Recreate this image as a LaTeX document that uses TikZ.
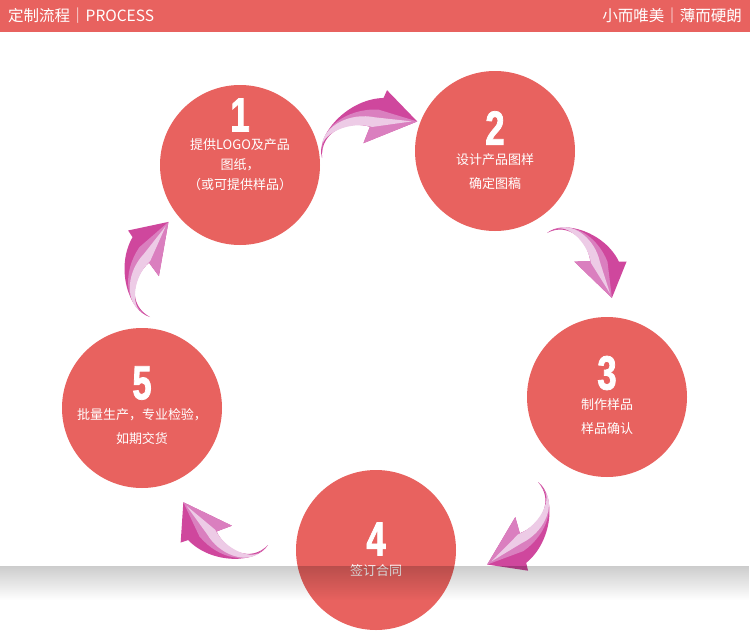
\documentclass[tikz,border=0pt]{standalone}
\usepackage{fontspec}
\usetikzlibrary{positioning,fadings}
\newfontfamily\cjk{Noto Sans CJK SC}
\newfontfamily\numfont{Liberation Sans}[FakeStretch=0.72,FakeBold=1.6]

\definecolor{stagered}{HTML}{E8625F}
\definecolor{arrowmag}{HTML}{CF479D}
\definecolor{arrowmid}{HTML}{DA7FBF}
\definecolor{arrowlight}{HTML}{EDCBE6}

\tikzset{
  bigarrow/.pic={
    \fill[arrowmag] (0,0) .. controls (2,-24) and (45,-46) .. (79,-34)
      -- (85,-40) -- (102,0) -- (44,1) -- (56,-12)
      .. controls (38,-26) and (8,-26) .. (0,0) -- cycle;
    \fill[arrowmid] (2,-5) .. controls (8,-28) and (40,-38) .. (70,-25)
      -- (102,0) -- (44,1) -- (56,-12)
      .. controls (38,-26) and (8,-26) .. (2,-5) -- cycle;
    \fill[arrowlight] (5,-13) .. controls (14,-29) and (42,-33) .. (64,-19)
      -- (97,-2) -- (58,-11)
      .. controls (42,-23) and (16,-24) .. (5,-13) -- cycle;
  }
}

\begin{document}
\begin{tikzpicture}[x=1pt, y=-1pt,
        stage/.style={circle, fill=stagered, minimum size=160pt, inner sep=0},
        num/.style={text=white, inner sep=0, font=\numfont\bfseries\fontsize{48}{48}\selectfont},
        txt/.style={text=white, inner sep=0, align=center, font=\cjk\fontsize{13}{24}\selectfont},
        head/.style={text=white, inner sep=0, font=\cjk\fontsize{15.5}{16}\selectfont}
        ]
        \useasboundingbox (0,0) rectangle (750,640);
        \fill[white] (0,0) rectangle (750,640);

        % header bar
        \fill[stagered] (0,0) rectangle (750,32);
        \node[head, anchor=west] (title) at (8,16) {定制流程｜PROCESS};
        \node[head, anchor=east] (motto) at (742,16) {小而唯美｜薄而硬朗};

        % stages
        \node[stage] (s1) at (240,165) {};
        \node[stage] (s2) at (495,151) {};
        \node[stage] (s3) at (607,397) {};
        \node[stage] (s4) at (376,550) {};
        \node[stage] (s5) at (142,408) {};

        \node[num] (n1) at (240,115) {1};
        \node[num] (n2) at (495,128) {2};
        \node[num] (n3) at (607,373) {3};
        \node[num] (n4) at (376,539) {4};
        \node[num] (n5) at (142,383) {5};

        \node[txt, font=\cjk\fontsize{13}{20}\selectfont, below=7pt of n1] (t1) {提供LOGO及产品\\图纸，\\（或可提供样品）};
        \node[txt, below=8pt of n2] (t2) {设计产品图样\\确定图稿};
        \node[txt, below=8pt of n3] (t3) {制作样品\\样品确认};
        \node[txt, below=9pt of n4] (t4) {签订合同};
        \node[txt, below=8pt of n5] (t5) {批量生产，专业检验，\\如期交货};

        % arrows between stages
        \pic (a12) [rotate=21] at (322,158) {bigarrow};
        \pic (a23) [rotate=-45, scale=.9] at (547,233) {bigarrow};
        \pic (a34) [rotate=-121.6, scale=.95] at (538,482) {bigarrow};
        \pic (a45) [rotate=-206.8, scale=.93] at (268,545) {bigarrow};
        \pic (a51) [rotate=79, scale=.95] at (150,317) {bigarrow};

        % floor shadow
        \fill[black, opacity=.2, path fading=south] (0,566) rectangle (750,600);
\end{tikzpicture}
\end{document}
